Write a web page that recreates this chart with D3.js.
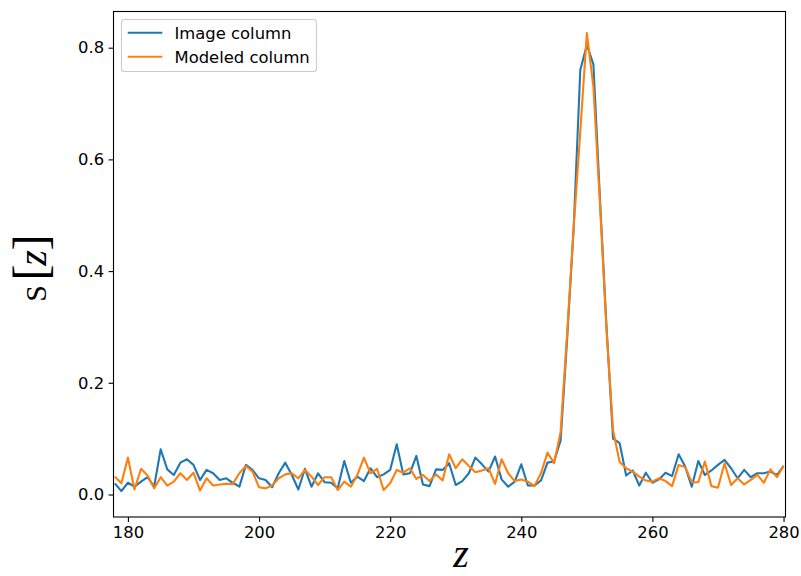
<!DOCTYPE html>
<html>
<head>
<meta charset="utf-8">
<script src="https://cdn.jsdelivr.net/npm/d3@7/dist/d3.min.js"></script>
<style>
  html, body { margin: 0; padding: 0; background: #fff; }
  svg { display: block; }
  text { font-family: "DejaVu Sans", sans-serif; fill: #000; }
</style>
</head>
<body>
<svg id="chart" width="801" height="576"></svg>
<script>
// Sample positions along the column (z) and the two profiles S[z]
const zValues = d3.range(178, 281);

const imageColumn = [
  0.020, 0.006, 0.021, 0.014, 0.023, 0.031, 0.014, 0.081, 0.045, 0.035,
  0.057, 0.063, 0.053, 0.026, 0.044, 0.038, 0.026, 0.029, 0.021, 0.014,
  0.053, 0.044, 0.029, 0.026, 0.013, 0.038, 0.057, 0.035, 0.009, 0.046,
  0.014, 0.038, 0.022, 0.021, 0.011, 0.060, 0.021, 0.032, 0.024, 0.047,
  0.031, 0.036, 0.044, 0.090, 0.036, 0.038, 0.069, 0.018, 0.015, 0.045,
  0.044, 0.056, 0.017, 0.024, 0.038, 0.066, 0.054, 0.041, 0.068, 0.027,
  0.014, 0.023, 0.054, 0.016, 0.016, 0.025, 0.057, 0.059, 0.097, 0.280,
  0.480, 0.760, 0.805, 0.770, 0.530, 0.300, 0.100, 0.092, 0.034, 0.043,
  0.016, 0.039, 0.021, 0.027, 0.039, 0.033, 0.072, 0.050, 0.014, 0.060,
  0.035, 0.043, 0.053, 0.062, 0.047, 0.029, 0.044, 0.031, 0.038, 0.038,
  0.041, 0.035, 0.051
];

const modeledColumn = [
  0.032, 0.020, 0.066, 0.009, 0.046, 0.034, 0.011, 0.031, 0.016, 0.023,
  0.038, 0.026, 0.039, 0.007, 0.029, 0.016, 0.018, 0.019, 0.019, 0.038,
  0.051, 0.041, 0.013, 0.011, 0.016, 0.029, 0.036, 0.038, 0.029, 0.044,
  0.032, 0.017, 0.031, 0.031, 0.008, 0.023, 0.014, 0.035, 0.066, 0.038,
  0.046, 0.008, 0.020, 0.044, 0.039, 0.047, 0.028, 0.035, 0.024, 0.036,
  0.025, 0.072, 0.047, 0.063, 0.051, 0.040, 0.043, 0.047, 0.019, 0.063,
  0.038, 0.024, 0.027, 0.023, 0.015, 0.038, 0.075, 0.056, 0.112, 0.290,
  0.480, 0.650, 0.826, 0.730, 0.520, 0.295, 0.115, 0.058, 0.047, 0.041,
  0.032, 0.025, 0.023, 0.029, 0.024, 0.015, 0.053, 0.049, 0.022, 0.022,
  0.059, 0.015, 0.012, 0.056, 0.017, 0.029, 0.018, 0.026, 0.035, 0.021,
  0.045, 0.031, 0.052
];

const seriesNames = ["Image column", "Modeled column"];
const seriesColors = ["#1f77b4", "#ff7f0e"];
const xTicks = [180, 200, 220, 240, 260, 280];
const yTicks = [0.0, 0.2, 0.4, 0.6, 0.8];

const plot = { left: 113.5, right: 785.5, top: 11.5, bottom: 517 };

const svg = d3.select("#chart");

const x = d3.scaleLinear().domain([177.8, 280.3]).range([plot.left, plot.right]);
const y = d3.scaleLinear().domain([-0.0403, 0.8648]).range([plot.bottom, plot.top]);

svg.append("defs").append("clipPath").attr("id", "plot-clip")
  .append("rect")
  .attr("x", plot.left).attr("y", plot.top)
  .attr("width", plot.right - plot.left).attr("height", plot.bottom - plot.top);

// Profiles
const series = [imageColumn, modeledColumn];
const line = d3.line().x((d, i) => x(zValues[i])).y(d => y(d));

const lines = svg.append("g").attr("clip-path", "url(#plot-clip)");
series.forEach((vals, k) => {
  lines.append("path")
    .datum(vals)
    .attr("d", line)
    .attr("fill", "none")
    .attr("stroke", seriesColors[k])
    .attr("stroke-width", 2.1)
    .attr("stroke-linejoin", "round")
    .attr("stroke-linecap", "butt");
});

// Axes
const xAxis = d3.axisBottom(x).tickValues(xTicks).tickFormat(d3.format("d"))
  .tickSize(4.9).tickPadding(4.5);
const yAxis = d3.axisLeft(y).tickValues(yTicks).tickFormat(d3.format(".1f"))
  .tickSize(4.9).tickPadding(4.5);

const gx = svg.append("g").attr("transform", `translate(0,${plot.bottom})`).call(xAxis);
const gy = svg.append("g").attr("transform", `translate(${plot.left},0)`).call(yAxis);

[gx, gy].forEach(g => {
  g.select(".domain").remove();
  g.selectAll(".tick line").attr("stroke", "#000").attr("stroke-width", 1.1);
  g.selectAll(".tick text")
    .attr("fill", "#000")
    .style("font-family", "'DejaVu Sans', sans-serif")
    .style("font-size", "16.4px");
});

// Frame
svg.append("rect")
  .attr("x", plot.left).attr("y", plot.top)
  .attr("width", plot.right - plot.left).attr("height", plot.bottom - plot.top)
  .attr("fill", "none").attr("stroke", "#000").attr("stroke-width", 1.1);

// Axis labels
const serif = "'Liberation Serif', 'DejaVu Serif', serif";

svg.append("text")
  .attr("x", 461).attr("y", 567)
  .attr("text-anchor", "middle")
  .style("font-family", serif)
  .style("font-style", "italic")
  .style("font-size", "40px")
  .text("z");

// y label S[z], set glyph by glyph along the rotated baseline
const yl = svg.append("g").attr("transform", "translate(46,0) rotate(-90)");
const yParts = [
  { t: "S", u: -293.5, size: 30, italic: false },
  { t: "[", u: -272.5, size: 48, italic: false },
  { t: "z", u: -258, size: 40, italic: true },
  { t: "]", u: -242.5, size: 48, italic: false }
];
yParts.forEach(p => {
  yl.append("text")
    .attr("x", p.u).attr("y", 0)
    .attr("text-anchor", "middle")
    .style("font-family", serif)
    .style("font-style", p.italic ? "italic" : "normal")
    .style("font-size", p.size + "px")
    .text(p.t);
});

// Legend
const legend = svg.append("g");
legend.append("rect")
  .attr("x", 121.5).attr("y", 19.5)
  .attr("width", 195).attr("height", 52)
  .attr("rx", 3).attr("ry", 3)
  .attr("fill", "#fff").attr("fill-opacity", 0.8)
  .attr("stroke", "#cccccc").attr("stroke-width", 1.1);

seriesNames.forEach((name, k) => {
  const cy = 32.7 + k * 24;
  legend.append("line")
    .attr("x1", 127.7).attr("x2", 162.3)
    .attr("y1", cy).attr("y2", cy)
    .attr("stroke", seriesColors[k]).attr("stroke-width", 2.1);
  legend.append("text")
    .attr("x", 174.5).attr("y", cy + 6)
    .style("font-size", "16.4px")
    .text(name);
});
</script>
</body>
</html>
